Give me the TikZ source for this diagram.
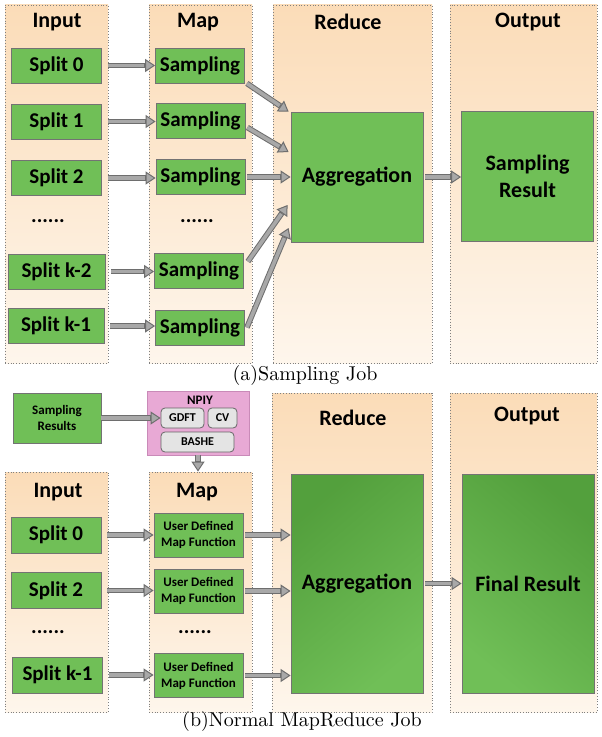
\documentclass[tikz,border=0pt]{standalone}
\usepackage{fontspec}
\newfontfamily\calibri{Carlito}
\usepackage{xcolor}
\usepackage{tikz}
\usetikzlibrary{arrows.meta, calc, positioning}

\definecolor{boxgreen}{HTML}{70BF57}
\definecolor{greendark}{HTML}{4E9A38}
\definecolor{peachtop}{HTML}{FBDCB8}
\definecolor{peachbot}{HTML}{FEF6EC}
\definecolor{arrowfill}{HTML}{A8A8A8}
\definecolor{arrowedge}{HTML}{6E6E6E}
\definecolor{npiypink}{HTML}{E8A9D5}
\definecolor{npiyedge}{HTML}{C98AB8}
\definecolor{keygray}{HTML}{E4E4E4}

\begin{document}
\begin{tikzpicture}[x=0.5pt, y=-0.5pt,
    col/.style={draw=gray, densely dotted, top color=peachtop, bottom color=peachbot,
        minimum width=51.5pt, inner sep=0pt},
    head/.style={font=\calibri\bfseries\fontsize{11}{13}\selectfont},
    gbox/.style={draw=black!55, fill=boxgreen, inner sep=0pt, align=center,
        font=\calibri\bfseries\fontsize{10.5}{12}\selectfont,
        minimum width=45pt, minimum height=17.5pt},
    sbox/.style={gbox, font=\calibri\bfseries\fontsize{6.5}{8}\selectfont,
        minimum width=44.5pt, minimum height=22pt},
    bigbox/.style={gbox, font=\calibri\bfseries\fontsize{11}{13.5}\selectfont,
        minimum width=66pt},
    glow/.style={top color=greendark!85!boxgreen, middle color=boxgreen!92!black,
        bottom color=boxgreen},
    key/.style={draw=black!60, fill=keygray, rounded corners=2pt, inner sep=0pt,
        minimum height=10pt, font=\calibri\bfseries\fontsize{6}{7}\selectfont},
    dots/.style={font=\calibri\bfseries\fontsize{10.5}{12}\selectfont},
    capt/.style={font=\fontsize{10}{12}\selectfont},
    fat/.style={draw=arrowedge, line width=2.8pt,
        -{Triangle[length=5pt, width=6.5pt, line width=0.5pt, fill=arrowfill]},
        postaction={draw=arrowfill, line width=1.8pt, shorten >=5.4pt, -}}
]
\useasboundingbox (0,0) rectangle (601,737);

% (a) Sampling Job
\node[col, minimum height=179pt] (inA) at (56.5,184) {};
\node[col, minimum height=179pt] (mapA) at (200.5,184) {};
\node[col, minimum height=179pt, minimum width=79.5pt] (redA) at (352.5,184) {};
\node[col, minimum height=179pt, minimum width=73.5pt] (outA) at (523.5,184) {};

\node[head] (hinA) at (57,22) {Input};
\node[head] (hmapA) at (198,22) {Map};
\node[head] (hredA) at (348,22) {Reduce};
\node[head] (houtA) at (528,22) {Output};

\node[gbox] (spA0) at (56.5,65.5) {Split 0};
\node[gbox] (spA1) at (56.5,121.5) {Split 1};
\node[gbox] (spA2) at (56.5,178) {Split 2};
\node[dots] (dotA1) at (48,221) {......};
\node[gbox, minimum width=48.5pt] (spA3) at (56.5,271.5) {Split k-2};
\node[gbox, minimum width=48pt] (spA4) at (56,326) {Split k-1};

\node[gbox, minimum width=44.5pt] (saA0) at (200,65.5) {Sampling};
\node[gbox, minimum width=44.5pt] (saA1) at (200.5,120.5) {Sampling};
\node[gbox, minimum width=44.5pt] (saA2) at (200.5,177) {Sampling};
\node[dots] (dotA2) at (197,221) {......};
\node[gbox, minimum width=44.5pt] (saA3) at (199,270.5) {Sampling};
\node[gbox, minimum width=44.5pt] (saA4) at (200,327.5) {Sampling};

\node[bigbox, minimum height=65pt] (aggA) at (357,177) {Aggregation};
\node[bigbox, minimum height=65pt] (resA) at (527.5,176) {Sampling\\Result};

\foreach \i in {0,1,2,3,4}
    \draw[fat, shorten <=3pt] (spA\i.east) -- (spA\i.east -| saA\i.west);

\draw[fat] ([xshift=1pt]saA0.south east) -- ([xshift=-1pt]aggA.north west);
\draw[fat] ([xshift=1pt, yshift=-3.5pt]saA1.east) -- ([xshift=-1pt, yshift=12.5pt]aggA.west);
\draw[fat] ([xshift=1pt]saA2.east) -- (aggA.west);
\draw[fat] ([xshift=2pt, yshift=4.5pt]saA3.east) -- ([xshift=-1.5pt, yshift=-14pt]aggA.west);
\draw[fat] ([xshift=1pt]saA4.east) -- ([xshift=-1pt, yshift=-25.5pt]aggA.west);
\draw[fat, shorten <=1pt] (aggA.east) -- (aggA.east -| resA.west);

\node[capt] (capA) at (305,375) {(a)Sampling Job};

% (b) Normal MapReduce Job
\node[col, minimum height=120pt] (inB) at (56.5,592) {};
\node[col, minimum height=120pt] (mapB) at (200.5,592) {};
\node[col, minimum height=159.5pt, minimum width=80pt] (redB) at (352,552.5) {};
\node[col, minimum height=159.5pt, minimum width=73.5pt] (outB) at (523.5,552.5) {};

\node[head] (hinB) at (58,492) {Input};
\node[head] (hmapB) at (197,492) {Map};
\node[head] (hredB) at (353,418) {Reduce};
\node[head] (houtB) at (527,416) {Output};

\node[sbox, minimum width=44pt, minimum height=25pt] (sres) at (57,418) {Sampling\\Results};

\node[draw=npiyedge, fill=npiypink, minimum width=51pt, minimum height=32pt] (npiy) at (198,423) {};
\node[font=\calibri\bfseries\fontsize{6.5}{8}\selectfont] (npiyt) at (200,400) {NPIY};
\node[key, minimum width=21.5pt] (gdft) at (182.5,418) {GDFT};
\node[key, minimum width=14.5pt] (cv) at (222.5,418) {CV};
\node[key, minimum width=36.5pt] (bashe) at (197.5,442) {BASHE};

\draw[fat] (sres.east) -- (sres.east -| gdft.west);
\draw[fat] (npiy.south) -- (npiy.south |- mapB.north);

\node[gbox, minimum height=18pt] (spB0) at (56,535) {Split 0};
\node[gbox, minimum height=18pt] (spB1) at (56,590.5) {Split 2};
\node[dots] (dotB1) at (48,632) {......};
\node[gbox, minimum height=18pt] (spB2) at (57.5,675) {Split k-1};

\node[sbox] (udB0) at (198.5,535) {User Defined\\Map Function};
\node[sbox] (udB1) at (198.5,591) {User Defined\\Map Function};
\node[dots] (dotB2) at (195,632) {......};
\node[sbox] (udB2) at (198.5,675.5) {User Defined\\Map Function};

\node[bigbox, minimum height=109.5pt, glow, shading angle=40] (aggB) at (357,583.5) {Aggregation};
\node[bigbox, minimum height=109.5pt, glow, shading angle=-40] (finB) at (528,583.5) {Final Result};

\foreach \i in {0,1,2}
    \draw[fat, shorten <=3pt] (spB\i.east) -- (spB\i.east -| udB\i.west);
\foreach \i in {0,1,2}
    \draw[fat, shorten <=1pt] (udB\i.east) -- (udB\i.east -| aggB.west);
\draw[fat, shorten <=1pt] (aggB.east) -- (aggB.east -| finB.west);

\node[capt] (capB) at (302,721) {(b)Normal MapReduce Job};
\end{tikzpicture}
\end{document}
